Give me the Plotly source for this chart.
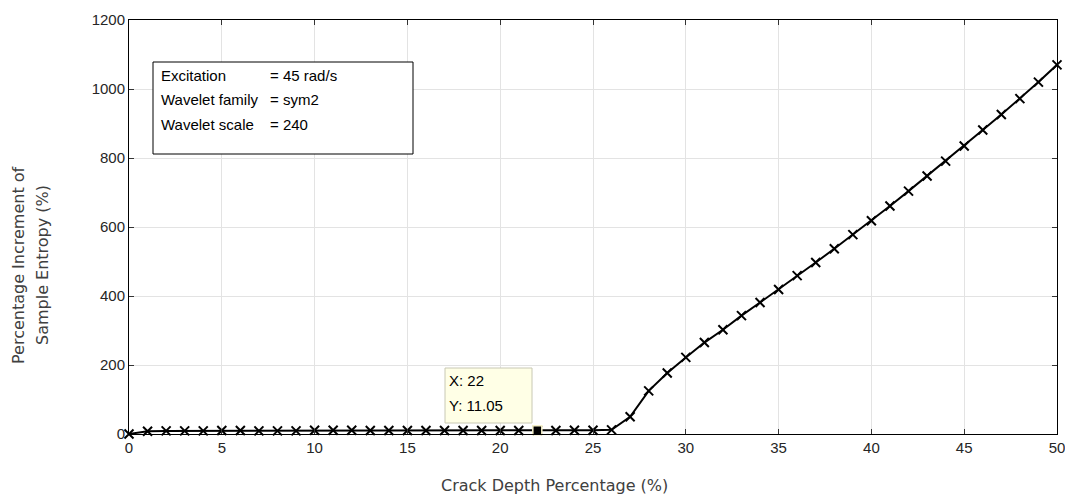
import plotly.graph_objects as go

crack_depth = list(range(0, 51))
entropy_increment = [
    0, 8, 9, 9, 9, 10, 10, 9, 9, 9,
    11, 11, 11, 10, 10, 10, 10, 10, 10, 10,
    10, 10, 11.05, 10, 11, 11, 12, 50, 125, 177,
    222, 265, 302, 343, 381, 419, 459, 497, 537, 578,
    618, 661, 704, 748, 791, 835, 881, 926, 972, 1020,
    1070,
]
tip_x = 22
tip_y = 11.05
info_lines = ["Excitation", "Wavelet family", "Wavelet scale"]
info_values = ["= 45 rad/s", "= sym2", "= 240"]
x_title = "Crack Depth Percentage (%)"
y_title_lines = ["Percentage Increment of", "Sample Entropy (%)"]

PL, PR, PT, PB = 129, 1057, 20, 434
PW, PH = PR - PL, PB - PT

def px(x):
    return (x - PL) / PW

def py(y):
    return (PB - y) / PH

fig = go.Figure()
fig.add_trace(go.Scatter(
    x=crack_depth, y=entropy_increment, mode="lines+markers",
    line=dict(color="black", width=2),
    marker=dict(symbol="x-thin", size=9, line=dict(color="black", width=2)),
    hoverinfo="skip", showlegend=False, cliponaxis=False,
))
fig.add_trace(go.Scatter(
    x=[tip_x], y=[tip_y], mode="markers",
    marker=dict(symbol="square", size=9, color="black",
                line=dict(color="#f5f0c8", width=1.5)),
    showlegend=False, hoverinfo="skip", cliponaxis=False,
))

# info box
fig.add_shape(type="rect", xref="paper", yref="paper",
              x0=px(153), x1=px(413), y0=py(154), y1=py(62),
              line=dict(color="black", width=1), fillcolor="white", layer="above")
for i, (lab, val) in enumerate(zip(info_lines, info_values)):
    yy = py(75 + i * 24.5)
    fig.add_annotation(xref="paper", yref="paper", x=px(159), y=yy,
                       text=lab, showarrow=False, xanchor="left", yanchor="middle",
                       font=dict(family="Liberation Sans, Arial", size=15, color="black"))
    fig.add_annotation(xref="paper", yref="paper", x=px(268), y=yy,
                       text=val, showarrow=False, xanchor="left", yanchor="middle",
                       font=dict(family="Liberation Sans, Arial", size=15, color="black"))

# datatip
fig.add_shape(type="rect", xref="paper", yref="paper",
              x0=px(445), x1=px(532), y0=py(423), y1=py(368),
              line=dict(color="#c8c8b4", width=1), fillcolor="#ffffe6", layer="above")
fig.add_annotation(xref="paper", yref="paper", x=px(447), y=py(380),
                   text=f"X: {tip_x}", showarrow=False, xanchor="left", yanchor="middle",
                   font=dict(family="Liberation Sans, Arial", size=15, color="black"))
fig.add_annotation(xref="paper", yref="paper", x=px(447), y=py(405),
                   text=f"Y: {tip_y}", showarrow=False, xanchor="left", yanchor="middle",
                   font=dict(family="Liberation Sans, Arial", size=15, color="black"))

# axis titles
title_font = dict(family="DejaVu Sans", size=16, color="#404040")
fig.add_annotation(xref="paper", yref="paper", x=px(554.5), y=py(485),
                   text=x_title, showarrow=False, xanchor="center", yanchor="middle",
                   font=title_font)
for i, line in enumerate(y_title_lines):
    fig.add_annotation(xref="paper", yref="paper", x=px(18 + i * 24), y=py(265),
                       text=line, showarrow=False, textangle=-90,
                       xanchor="center", yanchor="middle", font=title_font)

axis_common = dict(
    showline=True, linecolor="black", linewidth=1, mirror="ticks",
    ticks="inside", ticklen=5, tickcolor="#333333",
    showgrid=True, gridcolor="#e3e3e3", gridwidth=1, zeroline=False,
    automargin=False, ticklabeloverflow="allow",
    tickfont=dict(family="Liberation Sans, Arial", size=15, color="#262626"),
)
fig.update_xaxes(range=[0, 50], dtick=5, tick0=0, **axis_common)
fig.update_yaxes(range=[0, 1200], dtick=200, tick0=0, **axis_common)
fig.update_layout(
    width=1065, height=502,
    margin=dict(l=PL, r=1065 - PR, t=PT, b=502 - PB),
    plot_bgcolor="white", paper_bgcolor="white",
)
fig.write_html("out.html")
